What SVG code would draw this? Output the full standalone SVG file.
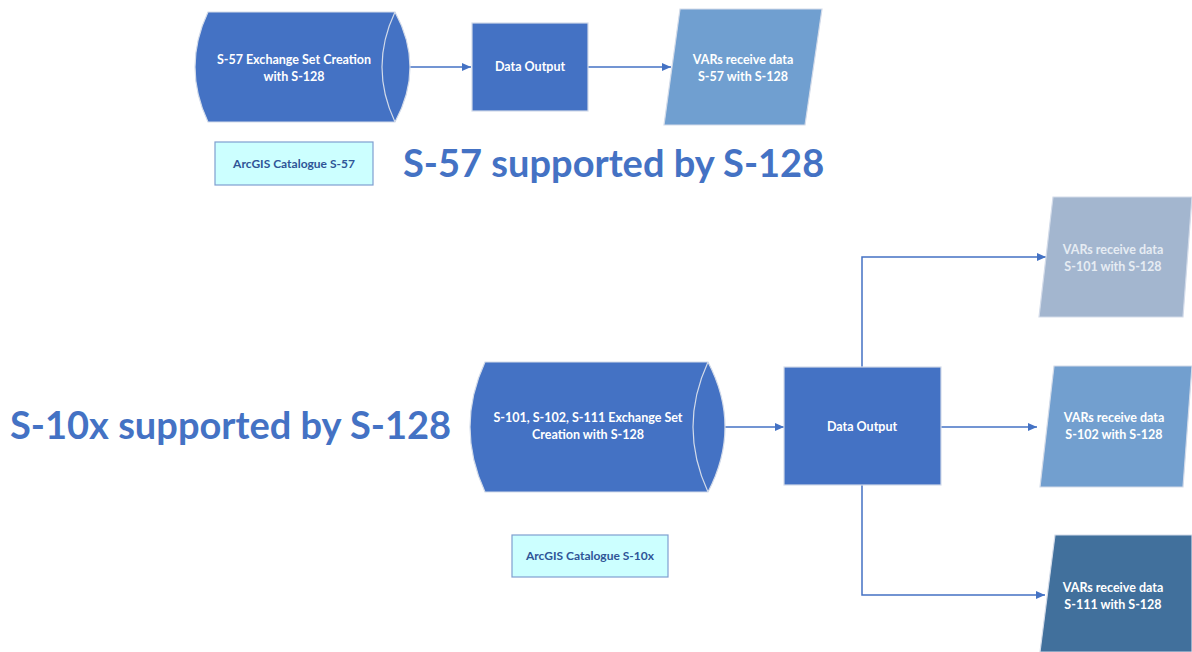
<svg xmlns="http://www.w3.org/2000/svg" width="1192" height="652" viewBox="0 0 1192 652">
<defs>
<marker id="arr" markerWidth="10" markerHeight="10" refX="9" refY="5" orient="auto" markerUnits="userSpaceOnUse">
<path d="M0,1 L9,5 L0,9 Z" fill="#4472c4"/>
</marker>
<style>
.shape{stroke:#d3dbe9;stroke-width:1.2}
.blue{fill:#4472c4}
.lbl{font-family:Lato,"Liberation Sans",sans-serif;font-weight:bold;font-size:12.5px;fill:#ffffff;text-anchor:middle}
.lblv{font-family:Lato,"Liberation Sans",sans-serif;font-weight:bold;font-size:12.5px;text-anchor:middle}
.cat{fill:#ccffff;stroke:#7f9fd0;stroke-width:1.2}
.catt{font-family:Lato,"Liberation Sans",sans-serif;font-weight:bold;font-size:12px;fill:#2f5597;text-anchor:middle}
.title{font-family:Lato,"Liberation Sans",sans-serif;font-weight:bold;font-size:38px;fill:#4472c4}
.conn{fill:none;stroke:#4472c4;stroke-width:1.5}
</style>
</defs>
<rect width="1192" height="652" fill="#ffffff"/>

<g id="connectors">
<line class="conn" x1="410" y1="67" x2="471" y2="67" marker-end="url(#arr)"/>
<line class="conn" x1="588" y1="67" x2="671" y2="67" marker-end="url(#arr)"/>
<line class="conn" x1="725" y1="427" x2="784" y2="427" marker-end="url(#arr)"/>
<line class="conn" x1="941" y1="427" x2="1037" y2="427" marker-end="url(#arr)"/>
<polyline class="conn" points="862,367 862,257 1046,257" marker-end="url(#arr)"/>
<polyline class="conn" points="862,485 862,595 1045,595" marker-end="url(#arr)"/>
</g>

<g id="s57-creation">
<path class="shape blue" d="M208,12 L395,12 Q425,67 395,122 L208,122 Q182,67 208,12 Z"/>
<path d="M395,12 Q369,67 395,122" fill="none" stroke="#d3dbe9" stroke-width="1.2"/>
<text class="lbl" x="294" y="64">S-57 Exchange Set Creation</text>
<text class="lbl" x="294" y="81">with S-128</text>
</g>

<g id="s57-output">
<rect class="shape blue" x="472" y="23" width="116" height="88"/>
<text class="lbl" x="530" y="71">Data Output</text>
</g>

<g id="s57-vars">
<path class="shape" fill="#709fd0" d="M680,9 L822,9 L805,125 L664,125 Z"/>
<text class="lbl" x="743" y="64">VARs receive data</text>
<text class="lbl" x="743" y="81">S-57 with S-128</text>
</g>

<g id="s57-catalogue">
<rect class="cat" x="215" y="142" width="158" height="43"/>
<text class="catt" x="294" y="168">ArcGIS Catalogue S-57</text>
</g>

<g id="s57-title">
<text class="title" x="403" y="177">S-57 supported by S-128</text>
</g>

<g id="s10x-title">
<text class="title" x="10" y="439">S-10x supported by S-128</text>
</g>

<g id="s10x-creation">
<path class="shape blue" d="M485,362 L708,362 Q742,427 708,492 L485,492 Q455,427 485,362 Z"/>
<path d="M708,362 Q678,427 708,492" fill="none" stroke="#d3dbe9" stroke-width="1.2"/>
<text class="lbl" x="588" y="422">S-101, S-102, S-111 Exchange Set</text>
<text class="lbl" x="588" y="439">Creation with S-128</text>
</g>

<g id="s10x-output">
<rect class="shape blue" x="784" y="367" width="157" height="118"/>
<text class="lbl" x="862" y="431">Data Output</text>
</g>

<g id="vars-s101">
<path class="shape" fill="#a3b6cf" d="M1053,197 L1192,197 L1183,317 L1039,317 Z"/>
<text class="lblv" fill="#e6ecf3" x="1113" y="254">VARs receive data</text>
<text class="lblv" fill="#e6ecf3" x="1113" y="271">S-101 with S-128</text>
</g>

<g id="vars-s102">
<path class="shape" fill="#729fcf" d="M1054,366 L1192,366 L1183,487 L1040,487 Z"/>
<text class="lbl" x="1114" y="422">VARs receive data</text>
<text class="lbl" x="1114" y="439">S-102 with S-128</text>
</g>

<g id="vars-s111">
<path class="shape" fill="#41709c" d="M1055,535 L1192,535 L1192,652 L1040,652 Z"/>
<text class="lbl" x="1113" y="592">VARs receive data</text>
<text class="lbl" x="1113" y="609">S-111 with S-128</text>
</g>

<g id="s10x-catalogue">
<rect class="cat" x="512" y="535" width="156" height="42"/>
<text class="catt" x="590" y="560">ArcGIS Catalogue S-10x</text>
</g>
</svg>
